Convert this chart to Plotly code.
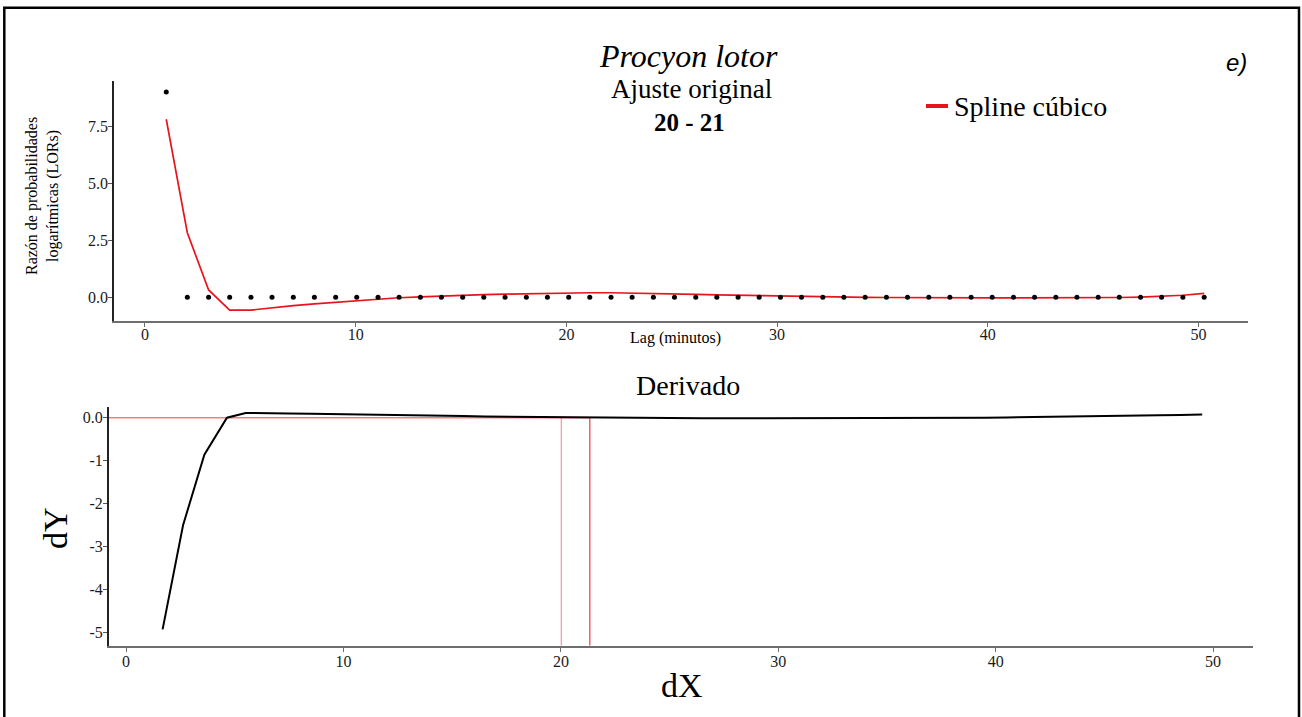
import plotly.graph_objects as go

# ---- data -------------------------------------------------------------
# lag (minutes) of each observation
LAG_MIN = [1.01, 2.01, 3.02, 4.02, 5.03, 6.03, 7.04, 8.04, 9.05, 10.05,
           11.06, 12.06, 13.07, 14.07, 15.08, 16.08, 17.09, 18.10, 19.10, 20.11,
           21.11, 22.12, 23.12, 24.13, 25.13, 26.14, 27.14, 28.15, 29.15, 30.16,
           31.16, 32.17, 33.17, 34.18, 35.19, 36.19, 37.20, 38.20, 39.21, 40.21,
           41.22, 42.22, 43.23, 44.23, 45.24, 46.24, 47.25, 48.25, 49.26, 50.27]

# observed log-odds ratios
LOR_OBS = [9.0, 0.0, 0.0, 0.0, 0.0, 0.0, 0.0, 0.0, 0.0, 0.0,
           0.0, 0.0, 0.0, 0.0, 0.0, 0.0, 0.0, 0.0, 0.0, 0.0,
           0.0, 0.0, 0.0, 0.0, 0.0, 0.0, 0.0, 0.0, 0.0, 0.0,
           0.0, 0.0, 0.0, 0.0, 0.0, 0.0, 0.0, 0.0, 0.0, 0.0,
           0.0, 0.0, 0.0, 0.0, 0.0, 0.0, 0.0, 0.0, 0.0, 0.0]

# cubic spline fitted values at each lag
LOR_SPLINE = [7.81, 2.83, 0.32, -0.56, -0.56, -0.45, -0.37, -0.29, -0.22, -0.15,
              -0.07, -0.02, 0.02, 0.06, 0.09, 0.12, 0.14, 0.16, 0.18, 0.19,
              0.20, 0.20, 0.19, 0.17, 0.15, 0.13, 0.11, 0.09, 0.07, 0.05,
              0.03, 0.02, 0.01, 0.00, -0.01, -0.02, -0.03, -0.03, -0.03, -0.03,
              -0.03, -0.03, -0.03, -0.03, -0.02, -0.01, 0.01, 0.04, 0.09, 0.17]

# first derivative of the spline
DX = [1.68, 2.62, 3.60, 4.64, 5.50, 6.50, 7.50, 8.50, 9.50, 10.50,
      11.50, 12.50, 13.50, 14.50, 15.50, 16.50, 17.50, 18.50, 19.50, 20.50,
      21.50, 22.50, 23.50, 24.50, 25.50, 26.50, 27.50, 28.50, 29.50, 30.50,
      31.50, 32.50, 33.50, 34.50, 35.50, 36.50, 37.50, 38.50, 39.50, 40.50,
      41.50, 42.50, 43.50, 44.50, 45.50, 46.50, 47.50, 48.50, 49.50]
DY = [-4.92, -2.50, -0.86, 0.00, 0.11, 0.11, 0.10, 0.09, 0.085, 0.075,
      0.065, 0.06, 0.05, 0.045, 0.04, 0.03, 0.025, 0.02, 0.015, 0.01,
      -0.002, -0.005, -0.01, -0.012, -0.015, -0.015, -0.015, -0.015, -0.015, -0.015,
      -0.015, -0.015, -0.015, -0.015, -0.015, -0.015, -0.012, -0.01, 0.0, 0.005,
      0.01, 0.015, 0.02, 0.03, 0.035, 0.045, 0.055, 0.065, 0.075]

# interval where the derivative changes sign
CROSS_LO, CROSS_HI = 20.02, 21.33

X_TICKS = [0, 10, 20, 30, 40, 50]
TOP_Y_TICKS = [0, 2.5, 5, 7.5]
TOP_Y_LABELS = ["0.0", "2.5", "5.0", "7.5"]
BOT_Y_TICKS = [0, -1, -2, -3, -4, -5]
BOT_Y_LABELS = ["0.0", "-1", "-2", "-3", "-4", "-5"]

# ---- layout helpers ------------------------------------------------------
W, H = 1302, 717
SERIF = "Liberation Serif, Times New Roman, serif"
RED = "#e8141c"


def px(x):
    return x / W


def py(y):
    return 1 - y / H


fig = go.Figure()

fig.add_trace(go.Scatter(x=LAG_MIN, y=LOR_SPLINE, mode="lines",
                         line=dict(color=RED, width=1.7),
                         xaxis="x", yaxis="y", showlegend=False,
                         name="Spline cúbico"))
fig.add_trace(go.Scatter(x=LAG_MIN, y=LOR_OBS, mode="markers",
                         marker=dict(color="black", size=5),
                         xaxis="x", yaxis="y", showlegend=False, name="LOR"))
fig.add_trace(go.Scatter(x=DX, y=DY, mode="lines",
                         line=dict(color="black", width=2),
                         xaxis="x2", yaxis="y2", showlegend=False, name="Derivado"))

tickfont = dict(family=SERIF, size=16, color="#1a1a1a")
common_x = dict(showline=True, linecolor="#6e6e6e", linewidth=2,
                ticks="outside", ticklen=4, tickcolor="#6e6e6e", tickwidth=1,
                showgrid=False, zeroline=False, tickfont=tickfont,
                tickvals=X_TICKS)
common_y = dict(showline=True, linecolor="#222222", linewidth=1.5,
                ticks="outside", ticklen=4, tickcolor="#555555", tickwidth=1,
                showgrid=False, zeroline=False, tickfont=tickfont,
                ticklabelstandoff=-3)

fig.update_layout(
    width=W, height=H,
    margin=dict(l=0, r=0, t=0, b=0),
    paper_bgcolor="white", plot_bgcolor="white",
    showlegend=False,
    xaxis=dict(domain=[px(114), px(1248)], range=[-1.47, 52.35], anchor="y",
               ticklabelstandoff=-6, **common_x),
    yaxis=dict(domain=[py(321), py(80.7)], range=[-1.04, 9.5], anchor="x",
               tickvals=TOP_Y_TICKS, ticktext=TOP_Y_LABELS, **common_y),
    xaxis2=dict(domain=[px(108.7), px(1253.3)], range=[-0.8, 51.85], anchor="y2",
                ticklabelstandoff=-4, **common_x),
    yaxis2=dict(domain=[py(645.7), py(406.7)], range=[-5.30, 0.256], anchor="x2",
                tickvals=BOT_Y_TICKS, ticktext=BOT_Y_LABELS, **common_y),
)

# zero line and sign-change markers on the derivative panel
shapes = [
    dict(type="line", xref="x2", yref="y2", x0=-0.8, x1=CROSS_HI, y0=0, y1=0,
         line=dict(color="rgba(236,40,50,0.6)", width=1.6), layer="below"),
    dict(type="line", xref="x2", yref="y2", x0=CROSS_LO, x1=CROSS_LO, y0=0, y1=-5.30,
         line=dict(color="rgba(236,40,50,0.45)", width=1.3), layer="below"),
    dict(type="line", xref="x2", yref="y2", x0=CROSS_HI, x1=CROSS_HI, y0=0, y1=-5.30,
         line=dict(color="rgba(236,40,50,0.85)", width=1.3), layer="below"),
    # legend key
    dict(type="line", xref="paper", yref="paper", x0=px(926), x1=px(948),
         y0=py(106), y1=py(106), line=dict(color=RED, width=4)),
    # outer frame
    dict(type="rect", xref="paper", yref="paper", x0=px(4.3), x1=px(1299),
         y0=-0.02, y1=py(7.7), line=dict(color="black", width=2.5)),
]
fig.update_layout(shapes=shapes)


def note(text, x, y, size, angle=0, xanchor="center", family=SERIF, color="black"):
    fig.add_annotation(text=text, x=px(x), y=py(y), xref="paper", yref="paper",
                       showarrow=False, xanchor=xanchor, yanchor="middle",
                       textangle=angle, font=dict(family=family, size=size, color=color))


note("<i>Procyon lotor</i>", 688, 56, 32)
note("Ajuste original", 691, 89, 27)
note("<b>20 - 21</b>", 689, 122, 25)
note("<i>e)</i>", 1236, 63, 24, family="Liberation Sans, Arial, sans-serif")
note("Spline cúbico", 952, 106, 28, xanchor="left")
note("Razón de probabilidades<br>logarítmicas (LORs)", 42, 196, 16, angle=-90)
note("Lag (minutos)", 675, 338, 16)
note("Derivado", 688, 385, 28)
note("dY", 55, 528, 34, angle=-90)
note("dX", 682, 685, 34)

fig.write_html("out.html")
